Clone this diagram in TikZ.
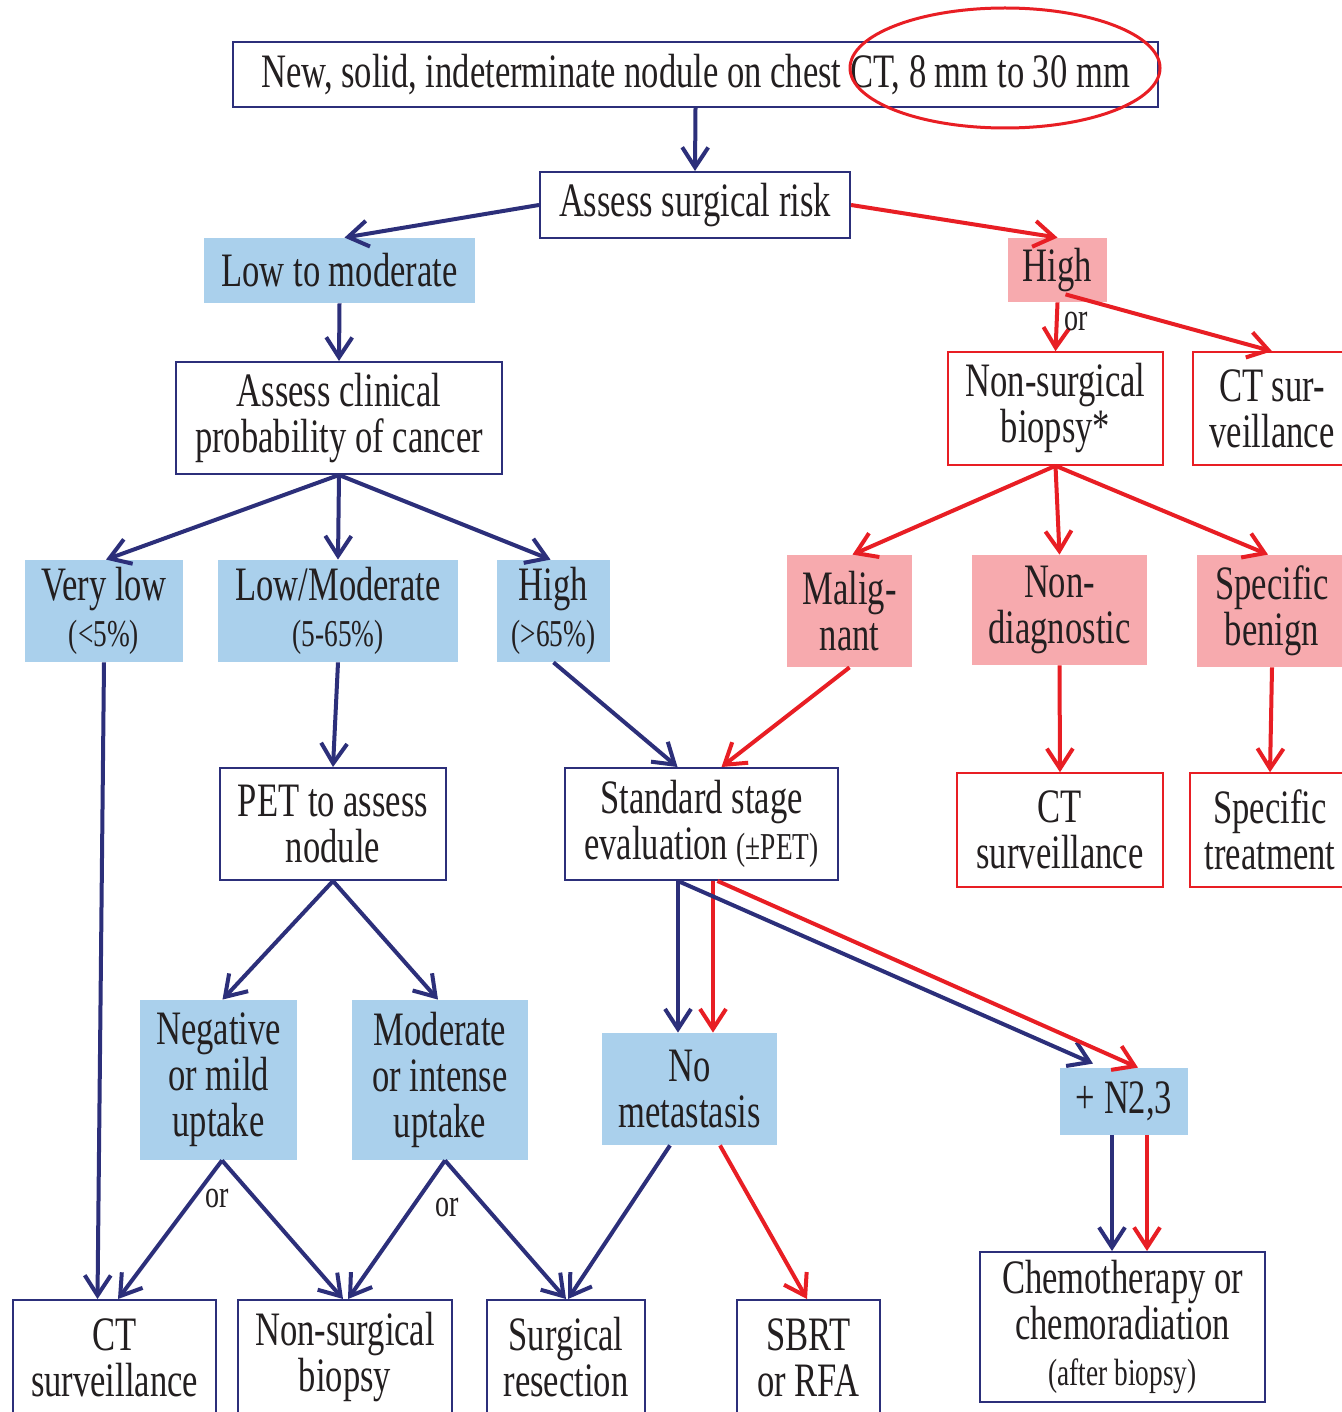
\documentclass[tikz,border=0pt]{standalone}
\usepackage{fontspec}
\setmainfont{Liberation Serif}[FakeStretch=0.72]
\usetikzlibrary{arrows.meta,calc}
\definecolor{navy}{RGB}{44,47,122}
\definecolor{lblue}{RGB}{170,208,236}
\definecolor{lpink}{RGB}{247,170,174}
\definecolor{rline}{RGB}{232,30,36}
\definecolor{txt}{RGB}{35,31,32}
\newcommand\smf{\fontsize{19}{22}\selectfont}
\begin{document}
\begin{tikzpicture}[x=0.5pt,y=-0.5pt,
  base/.style={inner sep=0pt, align=center, text=txt, font=\fontsize{24}{23}\selectfont},
  sz/.style 2 args={minimum width=#1*0.5pt, minimum height=#2*0.5pt},
  wbox/.style={base, draw=navy, line width=1pt, fill=white},
  rbox/.style={base, draw=rline, line width=0.8pt, fill=white},
  bbox/.style={base, fill=lblue},
  pbox/.style={base, fill=lpink},
  na/.style={draw=navy, line width=2pt, -{Straight Barb[length=10pt,width=13pt]}},
  ra/.style={draw=rline, line width=2pt, -{Straight Barb[length=10pt,width=13pt]}},
  orl/.style={text=txt, font=\fontsize{19.5}{22}\selectfont, inner sep=0pt}
]
\fill[white] (0,0) rectangle (1342,1412);
\useasboundingbox (0,0) rectangle (1342,1412);

% nodes
\node[wbox, sz={925}{65}] (top) at (695.5,74.5) {New, solid, indeterminate nodule on chest CT, 8 mm to 30 mm};
\node[wbox, sz={310}{66}] (assess) at (695,205) {Assess surgical risk};
\node[bbox, sz={271}{65}] (lowmod) at (339.5,270.5) {Low to moderate};
\node[pbox, sz={99}{64}] (highr) at (1057.5,270) {High};
\node[wbox, sz={326}{112}] (clin) at (339,418) {Assess clinical\\probability of cancer};
\node[rbox, sz={215}{113}] (nsb) at (1055.5,408.5) {Non-surgical\\biopsy*};
\node[rbox, sz={158}{113}] (ctsur1) at (1272,408.5) {CT sur-\\veillance};
\node[bbox, sz={158}{102}] (vlow) at (104,611) {Very low\\{\smf (<5\%)}};
\node[bbox, sz={240}{102}] (lmod) at (338,611) {Low/Moderate\\{\smf (5-65\%)}};
\node[bbox, sz={113}{102}] (hi2) at (553.5,611) {High\\{\smf (>65\%)}};
\node[pbox, sz={125}{112}] (malig) at (849.5,611) {Malig-\\nant};
\node[pbox, sz={175}{110}] (nond) at (1059.5,610) {Non-\\diagnostic};
\node[pbox, sz={150}{112}] (spben) at (1272,611) {Specific\\benign};
\node[wbox, sz={226}{112}] (pet) at (333,824) {PET to assess\\nodule};
\node[wbox, sz={273}{112}] (std) at (701.5,824) {Standard stage\\evaluation {\smf (±PET)}};
\node[rbox, sz={206}{114}] (ctsur2) at (1060,830) {CT\\surveillance};
\node[rbox, sz={160}{114}] (sptr) at (1270,830) {Specific\\treatment};
\node[bbox, sz={157}{160}] (neg) at (218.5,1080) {Negative\\or mild\\uptake};
\node[bbox, sz={176}{160}] (modi) at (440,1080) {Moderate\\or intense\\uptake};
\node[bbox, sz={175}{112}] (nomet) at (689.5,1089) {No\\metastasis};
\node[bbox, sz={128}{67}] (n23) at (1124,1101.5) {+ N2,3};
\node[wbox, sz={203}{115}] (b1) at (114.5,1357.5) {CT\\surveillance};
\node[wbox, sz={214}{115}] (b2) at (345,1357.5) {Non-surgical\\biopsy};
\node[wbox, sz={158}{115}] (b3) at (566,1357.5) {Surgical\\resection};
\node[wbox, sz={143}{115}] (b4) at (808.5,1357.5) {SBRT\\or RFA};
\node[wbox, sz={285}{150}] (chemo) at (1122.5,1327) {Chemotherapy or\\chemoradiation\\{\smf (after biopsy)}};

% highlight ellipse
\draw[rline, line width=1.5pt] (1005,68) ellipse [x radius=155, y radius=60];

% connectors
\draw[na] (top.south) -- (assess.north);
\draw[na] (assess.west) -- ($(lowmod.north)+(5,0)$);
\draw[ra] (assess.east) -- (highr.north);
\draw[na] (lowmod.south) -- (clin.north);
\draw[ra] (highr.south) -- (nsb.north) node[orl, pos=0.4, right=3pt] {or};
\draw[ra] ($(highr.south)+(8,-8)$) -- (ctsur1.north);
\draw[na] (clin.south) -- ($(vlow.north)+(2,0)$);
\draw[na] (clin.south) -- (lmod.north);
\draw[na] (clin.south) -- ($(hi2.north)+(-3,0)$);
\draw[ra] (nsb.south) -- ($(malig.north)+(3,0)$);
\draw[ra] (nsb.south) -- (nond.north);
\draw[ra] (nsb.south) -- ($(spben.north)+(-4,0)$);
\draw[na] (vlow.south) -- ($(b1.north)+(-17,0)$);
\draw[na] (lmod.south) -- (pet.north);
\draw[na] (hi2.south) -- ($(std.north)+(-24,0)$);
\draw[ra] (malig.south) -- ($(std.north)+(20,0)$);
\draw[ra] (nond.south) -- (ctsur2.north);
\draw[ra] (spben.south) -- (sptr.north);
\draw[na] (pet.south) -- ($(neg.north)+(4,0)$);
\draw[na] (pet.south) -- ($(modi.north)+(-2,0)$);
\draw[na] ($(std.south)+(-23.5,0)$) -- ($(nomet.north)+(-11.5,0)$);
\draw[ra] ($(std.south)+(11.5,0)$) -- ($(nomet.north)+(23.5,0)$);
\draw[na] ($(std.south)+(-23.5,0)$) -- ($(n23.north)+(-31,-4)$);
\draw[ra] ($(std.south)+(16,0)$) -- ($(n23.north)+(14,0)$);
\draw[na] ($(neg.south)+(3.5,0)$) -- ($(b1.north)+(3.5,0)$);
\draw[na] ($(neg.south)+(3.5,0)$) -- ($(b2.north)+(-2,0)$);
\node[orl] (or2) at (217,1198) {or};
\draw[na] ($(modi.south)+(5,0)$) -- ($(b2.north)+(3,0)$);
\draw[na] ($(modi.south)+(5,0)$) -- (b3.north);
\node[orl] (or3) at (447,1207) {or};
\draw[na] ($(nomet.south)+(-19.5,0)$) -- ($(b3.north)+(2,0)$);
\draw[ra] ($(nomet.south)+(30.5,0)$) -- ($(b4.north)+(-1.5,0)$);
\draw[na] ($(n23.south)+(-12,0)$) -- ($(chemo.north)+(-10.5,0)$);
\draw[ra] ($(n23.south)+(23,0)$) -- ($(chemo.north)+(24.5,0)$);
\end{tikzpicture}
\end{document}
